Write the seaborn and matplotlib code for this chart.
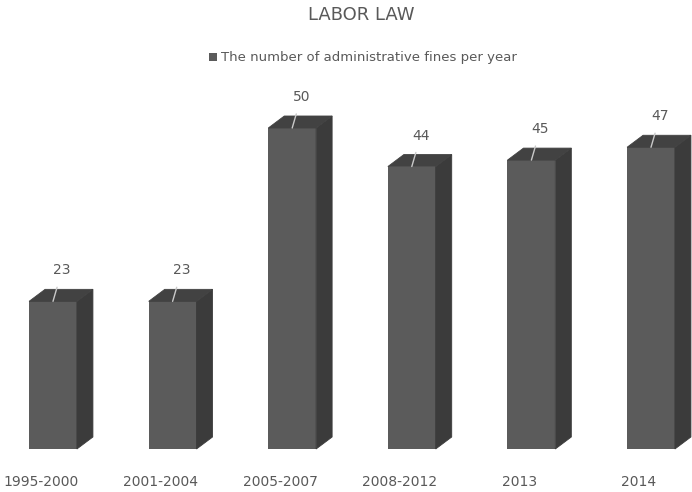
import matplotlib
matplotlib.use("Agg")
import matplotlib.pyplot as plt
from matplotlib.patches import Polygon, Patch
from matplotlib import transforms
import seaborn as sns
import pandas as pd

# Data
periods = ["1995-2000", "2001-2004", "2005-2007", "2008-2012", "2013", "2014"]
fines = [23, 23, 50, 44, 45, 47]
series_name = "The number of administrative fines per year"
title = "LABOR LAW"

# Colours
FRONT = "#5b5b5b"
TOP = "#424242"
SIDE = "#3b3b3b"
TEXT = "#595959"

sns.set_theme(style="white")
plt.rcParams["font.family"] = ["DejaVu Sans"]

W, H, DPI = 692, 492, 100
fig = plt.figure(figsize=(W / DPI, H / DPI), dpi=DPI)
base_px = 43
ax = fig.add_axes([0, base_px / H, 1, 1 - base_px / H])

df = pd.DataFrame({"period": periods, "fines": fines})
sns.barplot(data=df, x="period", y="fines", color=FRONT, saturation=1,
            width=0.4, edgecolor="none", linewidth=0, ax=ax, zorder=3)

# Axis scaling: category pitch and value scale in pixels
pitch_px = 119.6
first_px = 53
unit_px = 6.42
ax.set_xlim(-first_px / pitch_px, (W - first_px) / pitch_px)
ax.set_ylim(0, (H - base_px) / unit_px)

# 3D depth of the extruded bars, in pixels converted to data units
depth_x = 16 / pitch_px
depth_y = 12 / unit_px

for p in ax.patches[:]:
    x0 = p.get_x()
    x1 = x0 + p.get_width()
    h = p.get_height()
    side = Polygon([(x1, 0), (x1 + depth_x, depth_y), (x1 + depth_x, h + depth_y), (x1, h)],
                   closed=True, facecolor=SIDE, edgecolor=SIDE, linewidth=0.6,
                   zorder=4, clip_on=False)
    top = Polygon([(x0, h), (x0 + depth_x, h + depth_y), (x1 + depth_x, h + depth_y), (x1, h)],
                  closed=True, facecolor=TOP, edgecolor=TOP, linewidth=0.6,
                  zorder=4, clip_on=False)
    ax.add_patch(side)
    ax.add_patch(top)
    cx = x0 + p.get_width() / 2
    ax.annotate(f"{h:g}", xy=(cx, h), xytext=(9, 31),
                textcoords="offset pixels", ha="center", va="center",
                fontsize=10, color=TEXT, zorder=6,
                arrowprops=dict(arrowstyle="-", color="#c9c9c9", lw=1.0,
                                shrinkA=5, shrinkB=0))

# Category labels under the bars
ax.tick_params(axis="x", length=0, pad=19, labelsize=10, labelcolor=TEXT)
ax.set_xlabel("")
ax.set_ylabel("")
ax.set_yticks([])
shift = transforms.ScaledTranslation(-12 / DPI, 0, fig.dpi_scale_trans)
for lbl in ax.get_xticklabels():
    lbl.set_transform(lbl.get_transform() + shift)
for s in ax.spines.values():
    s.set_visible(False)
ax.set_facecolor("none")

fig.text(361 / W, 1 - 15 / H, title, ha="center", va="center",
         fontsize=13, color=TEXT)
fig.legend(handles=[Patch(facecolor=FRONT, edgecolor="none", label=series_name)],
           loc="center", bbox_to_anchor=(363 / W, 1 - 58 / H), frameon=False,
           handlelength=0.6, handleheight=0.6, handletextpad=0.3,
           fontsize=9.5, labelcolor=TEXT)

fig.savefig("out.png", dpi=DPI, facecolor="white")
